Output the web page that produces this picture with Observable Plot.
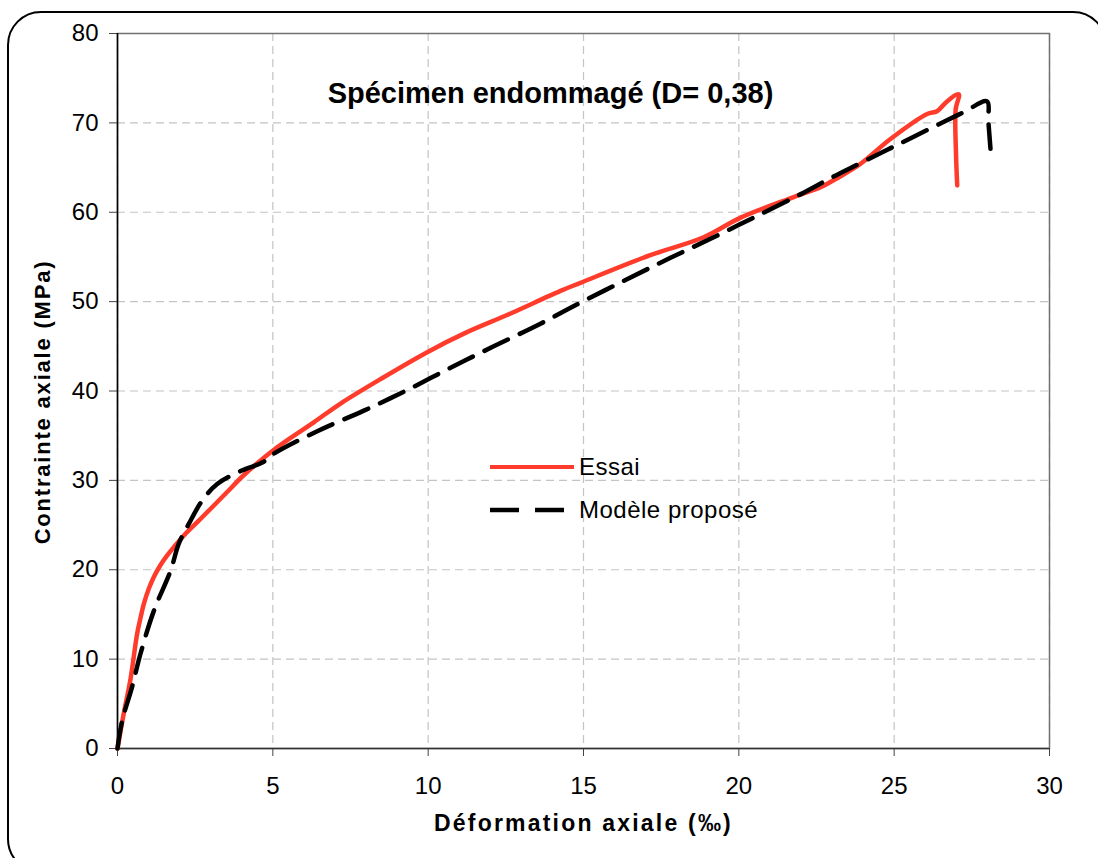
<!DOCTYPE html>
<html>
<head>
<meta charset="utf-8">
<script src="https://cdn.jsdelivr.net/npm/d3@7"></script>
<script src="https://cdn.jsdelivr.net/npm/@observablehq/plot@0.6"></script>
<style>
  html, body { margin: 0; padding: 0; background: #fff; overflow: hidden; }
  #wrap { position: relative; width: 1098px; height: 858px; overflow: hidden; }
  #border { position: absolute; left: 7px; top: 11px; width: 1100px; height: 862px;
            border: 2px solid #000; border-radius: 34px; box-shadow: 6px 6px 0 #000; box-sizing: border-box; background: #fff; }
  #chart { position: absolute; left: 0; top: 0; }
  #legend { position: absolute; left: 0; top: 0; pointer-events: none; }
</style>
</head>
<body>
<div id="wrap">
  <div id="border"></div>
  <div id="chart"></div>
  <svg id="legend" width="1098" height="858"></svg>
</div>
<script>
// ---- Data ----
const essaiX = [0, 0.2, 0.42, 0.63, 0.74, 0.85, 1.01, 1.17, 1.38, 1.6, 2.13, 2.56, 2.99, 3.53, 4.07, 5.14, 6.32, 7.18, 8.5, 10, 11.2, 12.54, 14.26, 14.9, 17.15, 18.87, 20.06, 21.77, 22.63, 23.16, 23.91, 24.88, 26.06, 26.38, 26.7, 27.08, 26.98, 26.99, 27.03];
const essaiY = [0, 3.9, 7.8, 12.8, 14.6, 16.2, 17.9, 19.2, 20.5, 21.6, 23.8, 25.3, 26.8, 28.7, 30.6, 33.7, 36.5, 38.6, 41.4, 44.4, 46.5, 48.5, 51.2, 52.1, 55.2, 57.2, 59.4, 61.7, 62.8, 63.8, 65.4, 68.2, 71.0, 71.3, 72.4, 73.2, 71.5, 66.6, 63.0];

const modelX = [0, 0.15, 0.47, 0.74, 1.17, 1.71, 1.97, 2.29, 2.72, 3.21, 4.0, 4.66, 5.04, 6.43, 7.93, 9.32, 10.72, 12.11, 13.6, 14.8, 16.4, 17.8, 19.19, 20.59, 21.98, 23.0, 23.86, 25.25, 26.65, 27.24, 27.99, 28.03, 28.1];
const modelY = [0, 3.1, 6.9, 10.6, 15.4, 19.9, 22.9, 25.1, 27.7, 29.6, 31.1, 32.0, 33.0, 35.5, 37.8, 40.1, 42.6, 45.0, 47.5, 49.7, 52.5, 54.9, 57.2, 59.6, 62.0, 63.9, 65.4, 67.8, 70.2, 71.2, 72.4, 70.3, 67.1];

const xTicks = [0, 5, 10, 15, 20, 25, 30];
const yTicks = [0, 10, 20, 30, 40, 50, 60, 70, 80];

const titleText = "Spécimen endommagé (D= 0,38)";
const xLabel = "Déformation axiale (‰)";
const yLabel = "Contrainte axiale (MPa)";
const seriesNames = ["Essai", "Modèle proposé"];

const essai = essaiX.map((x, i) => ({x, y: essaiY[i]}));
const model = modelX.map((x, i) => ({x, y: modelY[i]}));

const RED = "#ff3b2b";
const FONT = "'Liberation Sans', Arial, Helvetica, sans-serif";

const chart = Plot.plot({
  width: 1098,
  height: 858,
  marginLeft: 117,
  marginRight: 49,
  marginTop: 33,
  marginBottom: 110,
  style: {fontFamily: FONT, fontSize: "24px", color: "#000", background: "transparent", overflow: "visible"},
  x: {domain: [0, 30]},
  y: {domain: [0, 80]},
  marks: [
    Plot.gridX(xTicks, {stroke: "#c4c4c4", strokeOpacity: 1, strokeWidth: 1.2, strokeDasharray: "8,5"}),
    Plot.gridY(yTicks, {stroke: "#c4c4c4", strokeOpacity: 1, strokeWidth: 1.2, strokeDasharray: "8,5"}),
    Plot.frame({stroke: "#707070", strokeWidth: 1.5}),
    Plot.axisX(xTicks, {tickSize: 8, tickPadding: 20, fontSize: 24, label: null, stroke: "#444"}),
    Plot.axisY(yTicks, {tickSize: 8, tickPadding: 11, fontSize: 24, label: null, stroke: "#444"}),
    Plot.ruleX([0], {stroke: "#000", strokeWidth: 1.5}),
    Plot.ruleY([0], {stroke: "#333", strokeWidth: 1.5}),
    Plot.line(essai, {x: "x", y: "y", stroke: RED, strokeWidth: 4.5, strokeLinejoin: "round", strokeLinecap: "round", curve: "catmull-rom"}),
    Plot.line(model, {x: "x", y: "y", stroke: "#000", strokeWidth: 4.5, strokeDasharray: "26,13", curve: "catmull-rom"}),
    Plot.text([titleText], {text: d => d, frameAnchor: "top", textAnchor: "middle", lineAnchor: "middle", dx: -33, dy: 60, fontSize: 29, fontWeight: "bold", fill: "#000"}),
    Plot.text([xLabel], {text: d => d, frameAnchor: "bottom", textAnchor: "middle", lineAnchor: "middle", dy: 75, fontSize: 23, fontWeight: "bold", fill: "#000"}),
    Plot.text([yLabel], {text: d => d, frameAnchor: "left", textAnchor: "middle", dx: -75, dy: 11, rotate: -90, fontSize: 22, fontWeight: "bold", fill: "#000"})
  ]
});
const spacing = new Map([[xLabel, "2.2px"], [yLabel, "1.8px"]]);
d3.select(chart).selectAll("text").each(function() {
  const s = spacing.get(this.textContent);
  if (s) d3.select(this).style("letter-spacing", s);
});
document.getElementById("chart").appendChild(chart);

// ---- Legend ----
const lg = d3.select("#legend");
const items = [
  {name: seriesNames[0], stroke: RED, dash: null, y: 467},
  {name: seriesNames[1], stroke: "#000", dash: "29,16", y: 510}
];
items.forEach(it => {
  lg.append("line").attr("x1", 490).attr("x2", 574).attr("y1", it.y).attr("y2", it.y)
    .attr("stroke", it.stroke).attr("stroke-width", it.dash ? 4.5 : 4)
    .attr("stroke-dasharray", it.dash);
  lg.append("text").attr("x", 579).attr("y", it.y).attr("dy", "0.35em")
    .attr("font-family", FONT).attr("font-size", 24).attr("letter-spacing", "0.5px")
    .attr("fill", "#000").text(it.name);
});
</script>
</body>
</html>
